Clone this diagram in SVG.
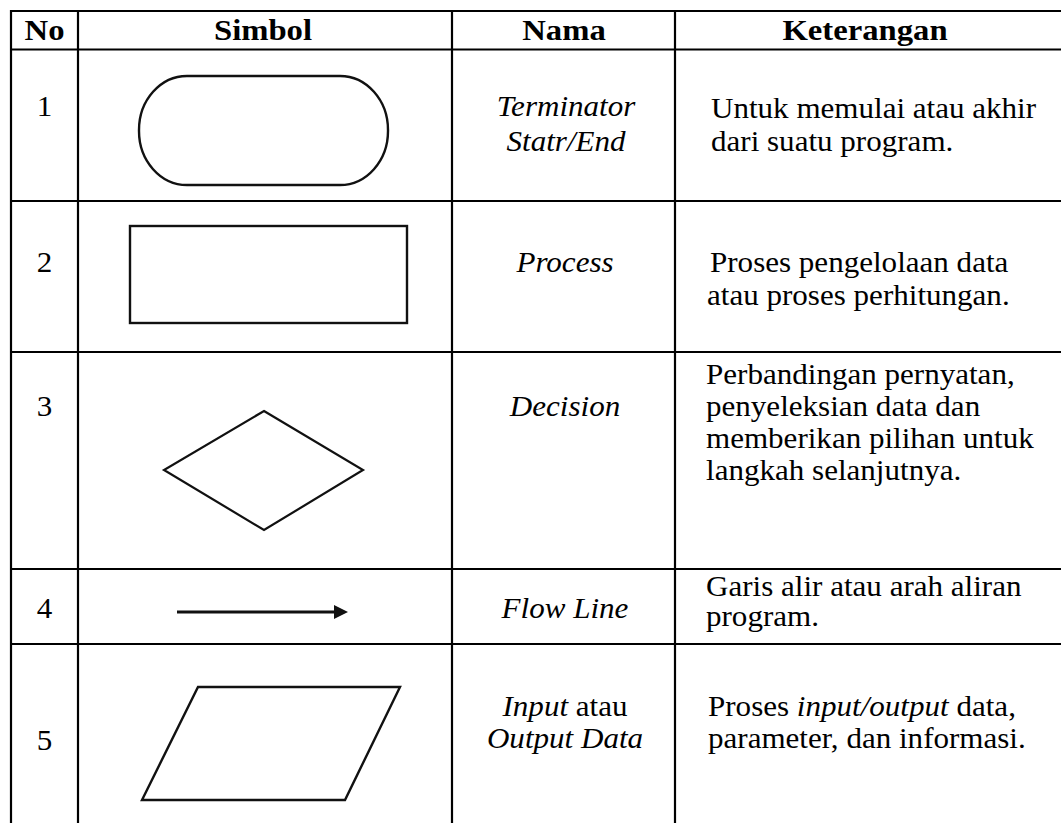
<svg xmlns="http://www.w3.org/2000/svg" width="1061" height="823" viewBox="0 0 1061 823">
<defs>
<style>
.grid line{stroke:#000;stroke-width:2.2}
.sym{fill:#fff;stroke:#111;stroke-width:2.4}
text{font-family:"Liberation Serif","Times New Roman",serif;font-size:28.5px;fill:#000}
.h{font-weight:bold;text-anchor:middle;font-size:30px}
.c{text-anchor:middle}
.i{font-style:italic}
</style>
<marker id="ah" viewBox="0 0 14 14" refX="1" refY="7" markerWidth="14" markerHeight="14" markerUnits="userSpaceOnUse" orient="auto">
<path d="M0,0 L14,7 L0,14 Z" fill="#111"/>
</marker>
</defs>
<rect width="1061" height="823" fill="#fff"/>
<g id="grid" class="grid">
<line x1="10" y1="11" x2="1061" y2="11"/>
<line x1="10" y1="49.5" x2="1061" y2="49.5"/>
<line x1="10" y1="201" x2="1061" y2="201"/>
<line x1="10" y1="352" x2="1061" y2="352"/>
<line x1="10" y1="569" x2="1061" y2="569"/>
<line x1="10" y1="644" x2="1061" y2="644"/>
<line x1="11" y1="10" x2="11" y2="823"/>
<line x1="78" y1="10" x2="78" y2="823"/>
<line x1="452" y1="10" x2="452" y2="823"/>
<line x1="675" y1="10" x2="675" y2="823"/>
</g>
<g id="header">
<text class="h" transform="translate(44.5 40) scale(1.09 1)">No</text>
<text class="h" transform="translate(263 40) scale(1.09 1)">Simbol</text>
<text class="h" transform="translate(564 40) scale(1.09 1)">Nama</text>
<text class="h" transform="translate(865 40) scale(1.09 1)">Keterangan</text>
</g>
<g id="row1">
<text class="c" transform="translate(44.5 116) scale(1.09 1)">1</text>
<rect class="sym" x="139" y="76" width="249" height="109" rx="48" ry="54"/>
<text class="c i" transform="translate(566 116) scale(1.09 1)">Terminator</text>
<text class="c i" transform="translate(566 151) scale(1.09 1)">Statr/End</text>
<text transform="translate(711 118) scale(1.09 1)">Untuk memulai atau akhir</text>
<text transform="translate(711 151) scale(1.09 1)">dari suatu program.</text>
</g>
<g id="row2">
<text class="c" transform="translate(44.5 272) scale(1.09 1)">2</text>
<rect class="sym" x="130" y="226" width="277" height="97"/>
<text class="c i" transform="translate(565 272) scale(1.09 1)">Process</text>
<text transform="translate(710 272) scale(1.09 1)">Proses pengelolaan data</text>
<text transform="translate(707 305) scale(1.09 1)">atau proses perhitungan.</text>
</g>
<g id="row3">
<text class="c" transform="translate(44.5 416) scale(1.09 1)">3</text>
<polygon class="sym" points="264,411 363,470 264,530 164,470" style="stroke-width:2.2"/>
<text class="c i" transform="translate(565 416) scale(1.09 1)">Decision</text>
<text transform="translate(706 384) scale(1.09 1)">Perbandingan pernyatan,</text>
<text transform="translate(706 416) scale(1.09 1)">penyeleksian data dan</text>
<text transform="translate(706 448) scale(1.09 1)">memberikan pilihan untuk</text>
<text transform="translate(706 480) scale(1.09 1)">langkah selanjutnya.</text>
</g>
<g id="row4">
<text class="c" transform="translate(44.5 618) scale(1.09 1)">4</text>
<line x1="177" y1="612" x2="335" y2="612" stroke="#111" stroke-width="3" marker-end="url(#ah)"/>
<text class="c i" transform="translate(565 618) scale(1.09 1)">Flow Line</text>
<text transform="translate(706 596) scale(1.09 1)">Garis alir atau arah aliran</text>
<text transform="translate(706 626) scale(1.09 1)">program.</text>
</g>
<g id="row5">
<text class="c" transform="translate(44.5 750) scale(1.09 1)">5</text>
<polygon class="sym" points="198,687 400,687 345,800 142,800"/>
<text class="c" transform="translate(565 716) scale(1.09 1)"><tspan class="i">Input</tspan> atau</text>
<text class="c i" transform="translate(565 748) scale(1.09 1)">Output Data</text>
<text transform="translate(708 716) scale(1.09 1)">Proses <tspan class="i">input/output</tspan> data,</text>
<text transform="translate(708 748) scale(1.09 1)">parameter, dan informasi.</text>
</g>
</svg>
